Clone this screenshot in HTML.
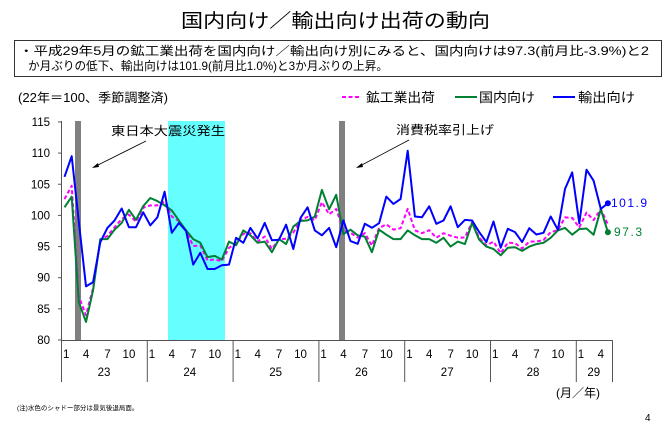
<!DOCTYPE html>
<html><head><meta charset="utf-8"><style>
body{margin:0;background:#fff;width:670px;height:426px;overflow:hidden;font-family:"Liberation Sans","Noto Sans CJK JP",sans-serif;}
svg{position:absolute;left:0;top:0}
</style></head><body>
<svg id="s" width="670" height="426" xmlns="http://www.w3.org/2000/svg" font-family="Liberation Sans, Noto Sans CJK JP, sans-serif">
<text x="181" y="27" font-size="19" textLength="309" lengthAdjust="spacingAndGlyphs">国内向け／輸出向け出荷の動向</text>
<rect x="14.5" y="40.5" width="647" height="36" fill="none" stroke="#333" stroke-width="1"/>
<text x="19" y="55" font-size="12" textLength="630" lengthAdjust="spacingAndGlyphs">・平成29年5月の鉱工業出荷を国内向け／輸出向け別にみると、国内向けは97.3(前月比-3.9%)と2</text>
<text x="28" y="70" font-size="12" textLength="360" lengthAdjust="spacingAndGlyphs">か月ぶりの低下、輸出向けは101.9(前月比1.0%)と3か月ぶりの上昇。</text>
<text x="18" y="102" font-size="12.5" textLength="150" lengthAdjust="spacingAndGlyphs">(22年＝100、季節調整済)</text>
<line x1="342" y1="97" x2="361" y2="97" stroke="#f0f" stroke-width="2" stroke-dasharray="4,2.5"/>
<text x="366" y="102" font-size="13" textLength="69" lengthAdjust="spacingAndGlyphs">鉱工業出荷</text>
<line x1="455" y1="97" x2="477" y2="97" stroke="#008033" stroke-width="2"/>
<text x="479" y="102" font-size="13" textLength="56" lengthAdjust="spacingAndGlyphs">国内向け</text>
<line x1="553" y1="97" x2="575" y2="97" stroke="#00f" stroke-width="2"/>
<text x="578" y="102" font-size="13" textLength="57" lengthAdjust="spacingAndGlyphs">輸出向け</text>
<rect x="168" y="121" width="57" height="219" fill="#66ffff"/>
<rect x="75" y="121" width="6" height="219" fill="#808080"/>
<rect x="339" y="121" width="6" height="219" fill="#808080"/>
<g id="ax" stroke="#555" stroke-width="1"></g>
<g id="lbl" font-size="11.5"></g>
<text x="111" y="135" font-size="12" textLength="114" lengthAdjust="spacingAndGlyphs">東日本大震災発生</text>
<line x1="146" y1="141" x2="94" y2="167" stroke="#000" stroke-width="0.8"/>
<polygon points="92,168 98,163 99,167" fill="#000"/>
<text x="396" y="134" font-size="12" textLength="98" lengthAdjust="spacingAndGlyphs">消費税率引上げ</text>
<line x1="409" y1="140" x2="358" y2="167" stroke="#000" stroke-width="0.8"/>
<polygon points="356,168 362,163 363,167" fill="#000"/>
<g id="lines"></g>
<text x="611" y="207" font-size="12" fill="#00f" textLength="36" lengthAdjust="spacing">101.9</text>
<text x="614" y="236" font-size="12" fill="#008033" textLength="28" lengthAdjust="spacing">97.3</text>
<text x="556" y="397" font-size="12">(月／年)</text>
<text x="17" y="410" font-size="6.5">(注)水色のシャドー部分は景気後退局面。</text>
<text x="645" y="421" font-size="10">4</text>
</svg>
<script>
var B=[106.2,109.5,99,88.6,89.3,95.7,98,99.2,101.1,98.1,98.1,100.5,98.4,99.7,103.8,97.2,98.8,97.5,92.1,94,91.4,91.4,92,92.1,96.4,95.6,98,96.3,98.8,96,96.1,98.5,94.6,99.6,101.3,97.6,96.8,98,94.9,99.2];
var bz=[392,400,340,352,338,258,280,265,120,318,320,287,340,330,287,350,328,330,365,395,333,412,355,365,395,353,372,367,318,358,235,185,338,177,210,295,278];
bz.forEach(function(z){B.push(115-(z-33)/18.77);});
var G=[101.3,103,86.1,82.9,88,96.2,96.2,97.7,98.8,100.9,99.3,101.5,102.8,102.3,101.6,100.8,99.2,97.6,96.2,95.6,93.3,93.5,92.9,95.8,95.2,97.6,96.8,95.6,95.8,94.1,96.2,95.4,98.2,99.1,99.2,99.8,104.1,101,103.3,97.0,97.7,96.8,96.6,94.1,97.7,96.9,96.2,96.2,97.6,96.8,96.2,96.2,95.6,96.4,95,95.8,95.4,98.8,96.1,95,94.6,93.6,94.8,94.9,94.3,95,95.4,95.6,96.4,97.6,98,96.9,97.8,97.9,96.9,101,97.3];
var M=G.map(function(g,i){return g+0.27*(B[i]-g);});M[2]=87;M[3]=84;
function X(i){return 64.5+7.15*i}function Y(v){return 340-(v-80)*6.23}
function pl(a,c,d){return '<polyline fill="none" stroke="'+c+'" stroke-width="2" '+(d?'stroke-dasharray="4,2.5"':'')+' stroke-linejoin="round" points="'+a.map(function(v,i){return X(i).toFixed(1)+','+Y(v).toFixed(1)}).join(' ')+'"/>';}
var L=document.getElementById('lines');
L.innerHTML=pl(M,'#f0f',1)+pl(G,'#008033')+pl(B,'#00f')+'<circle cx="'+X(76)+'" cy="'+Y(B[76])+'" r="3" fill="#00f"/><circle cx="'+X(76)+'" cy="'+Y(G[76])+'" r="3" fill="#008033"/>';
var ax='<line x1="61.5" y1="121" x2="61.5" y2="340"/><line x1="61" y1="340.5" x2="612" y2="340.5"/>';
var lb='';
for(var v=80;v<=115;v+=5){var y=Y(v);ax+='<line x1="58" y1="'+y+'" x2="61" y2="'+y+'"/>';lb+='<text x="50" y="'+(y+4)+'" text-anchor="end">'+v+'</text>';}
var yrs=[23,24,25,26,27,28,29];
for(var k=0;k<7;k++){var x0=61+85.8*k;ax+='<line x1="'+(x0+0.5)+'" y1="340" x2="'+(x0+0.5)+'" y2="382"/>';
 var ms=k<6?[1,4,7,10]:[1,4];ms.forEach(function(m){var xx=x0+7.15*(m-1)+(m==1?2:3.6);lb+='<text x="'+xx+'" y="358" text-anchor="'+(m==1?'start':'middle')+'">'+m+'</text>';});
 var cx=k<6?x0+43:x0+18;lb+='<text x="'+cx+'" y="376" text-anchor="middle">'+yrs[k]+'</text>';}
ax+='<line x1="612.5" y1="340" x2="612.5" y2="382"/>';
document.getElementById('ax').innerHTML=ax;document.getElementById('lbl').innerHTML=lb;
</script>
</body></html>
